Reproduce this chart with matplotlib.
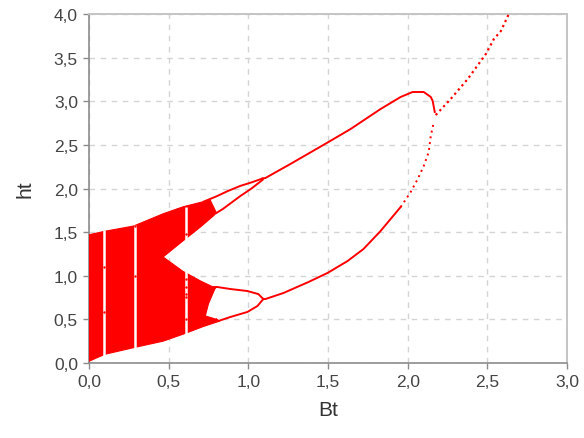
import matplotlib
matplotlib.use("Agg")
import matplotlib.pyplot as plt
from matplotlib.ticker import FuncFormatter, MultipleLocator
from matplotlib.patches import Polygon

plt.rcParams['font.family'] = ['Liberation Sans', 'DejaVu Sans']

RED = '#ff0000'

# Outline of the chaotic region (Bt, ht), traced anticlockwise
chaos_B = [0.0, 0.10, 0.29, 0.465, 0.59, 0.72, 0.82, 0.80, 0.73, 0.75, 0.79, 0.80,
           0.78, 0.70, 0.59, 0.465, 0.59, 0.70, 0.78, 0.80, 0.76, 0.72,
           0.59, 0.465, 0.28, 0.10, 0.0]
chaos_h = [0.02, 0.10, 0.18, 0.25, 0.33, 0.42, 0.48, 0.50, 0.54, 0.68, 0.85, 0.87,
           0.87, 0.94, 1.05, 1.215, 1.40, 1.56, 1.685, 1.72, 1.87, 1.85,
           1.79, 1.71, 1.57, 1.51, 1.47]

# Periodic windows inside the chaotic region
window_B = [0.094, 0.29, 0.607]
window_lo = [0.08, 0.17, 0.32]
window_hi = [1.52, 1.58, 1.79]
window_pts_B = [0.094, 0.094, 0.29, 0.29, 0.607, 0.607, 0.607, 0.607, 0.607, 0.607]
window_pts_h = [1.10, 0.58, 1.00, 1.57, 1.48, 0.96, 0.87, 0.79, 0.76, 0.50]

# Period-doubling bubbles
ubub_out_B = [0.72, 0.80, 0.87, 0.95, 1.02, 1.09]
ubub_out_h = [1.85, 1.91, 1.97, 2.03, 2.07, 2.115]
ubub_in_B = [0.80, 0.84, 0.95, 1.02, 1.09]
ubub_in_h = [1.72, 1.765, 1.914, 2.00, 2.10]
lbub_up_B = [0.78, 0.805, 0.887, 0.994, 1.063, 1.094]
lbub_up_h = [0.87, 0.871, 0.848, 0.825, 0.79, 0.733]
lbub_lo_B = [0.80, 0.811, 0.887, 0.994, 1.057, 1.094]
lbub_lo_h = [0.50, 0.481, 0.527, 0.585, 0.653, 0.733]

# Period-2 branches
up_B = [1.09, 1.107, 1.264, 1.503, 1.642, 1.830, 1.956, 2.031, 2.101, 2.145, 2.157, 2.170]
up_h = [2.115, 2.120, 2.281, 2.533, 2.682, 2.911, 3.049, 3.106, 3.106, 3.049, 3.003, 2.877]
lo_B = [1.094, 1.107, 1.220, 1.377, 1.497, 1.623, 1.723, 1.830, 1.956]
lo_h = [0.733, 0.733, 0.802, 0.928, 1.032, 1.169, 1.307, 1.513, 1.788]
lo2_B = [1.956, 2.019, 2.063, 2.101, 2.132, 2.145, 2.164]
lo2_h = [1.788, 1.960, 2.109, 2.258, 2.418, 2.602, 2.762]

# Period-1 branch
p1_B = [2.176, 2.270, 2.377, 2.491, 2.541, 2.585, 2.635]
p1_h = [2.842, 3.026, 3.255, 3.542, 3.713, 3.805, 4.000]

fig = plt.figure(figsize=(5.84, 4.39), dpi=100)
ax = fig.add_axes([89/584, (439-364)/439, (567-89)/584, (364-15)/439])
ax.set_xlim(0, 3.0)
ax.set_ylim(0, 4.0)

ax.add_patch(Polygon(list(zip(chaos_B, chaos_h)), closed=True, facecolor=RED,
                     edgecolor=RED, lw=0.8, zorder=3))
for b, lo, hi in zip(window_B, window_lo, window_hi):
    ax.vlines(b, lo, hi, colors='white', lw=1.8, zorder=4)
ax.scatter(window_pts_B, window_pts_h, s=3, color=RED, zorder=5, linewidths=0)

for xs, ys in [(ubub_out_B, ubub_out_h), (ubub_in_B, ubub_in_h),
               (lbub_up_B, lbub_up_h), (lbub_lo_B, lbub_lo_h),
               (up_B, up_h), (lo_B, lo_h)]:
    ax.plot(xs, ys, color=RED, lw=1.4, zorder=3)
ax.plot(lo2_B, lo2_h, color=RED, lw=1.4, ls=(0, (1, 2)), zorder=3)
ax.plot(p1_B, p1_h, color=RED, lw=1.6, ls=(0, (1, 1.5)), zorder=3)

ax.xaxis.set_major_locator(MultipleLocator(0.5))
ax.yaxis.set_major_locator(MultipleLocator(0.5))
fmt = FuncFormatter(lambda v, p: f"{v:.1f}".replace('.', ','))
ax.xaxis.set_major_formatter(fmt)
ax.yaxis.set_major_formatter(fmt)

ax.grid(True, color='#d4d4d4', ls=(0, (4, 4)), lw=1.0, zorder=0)
ax.set_axisbelow(True)
for s in ['left', 'bottom']:
    ax.spines[s].set_color('#8c8c8c')
    ax.spines[s].set_linewidth(1.2)
for s in ['top', 'right']:
    ax.spines[s].set_color('#c4c4c4')
    ax.spines[s].set_linewidth(1.4)
ax.tick_params(direction='out', length=4, width=1, color='#8c8c8c',
               labelsize=12.5, labelcolor='#444444', pad=4)

ax.set_xlabel('Bt', fontsize=15, color='#333333', labelpad=8)
ax.set_ylabel('ht', fontsize=15, color='#333333', labelpad=14)

fig.savefig('out.png', dpi=100)
